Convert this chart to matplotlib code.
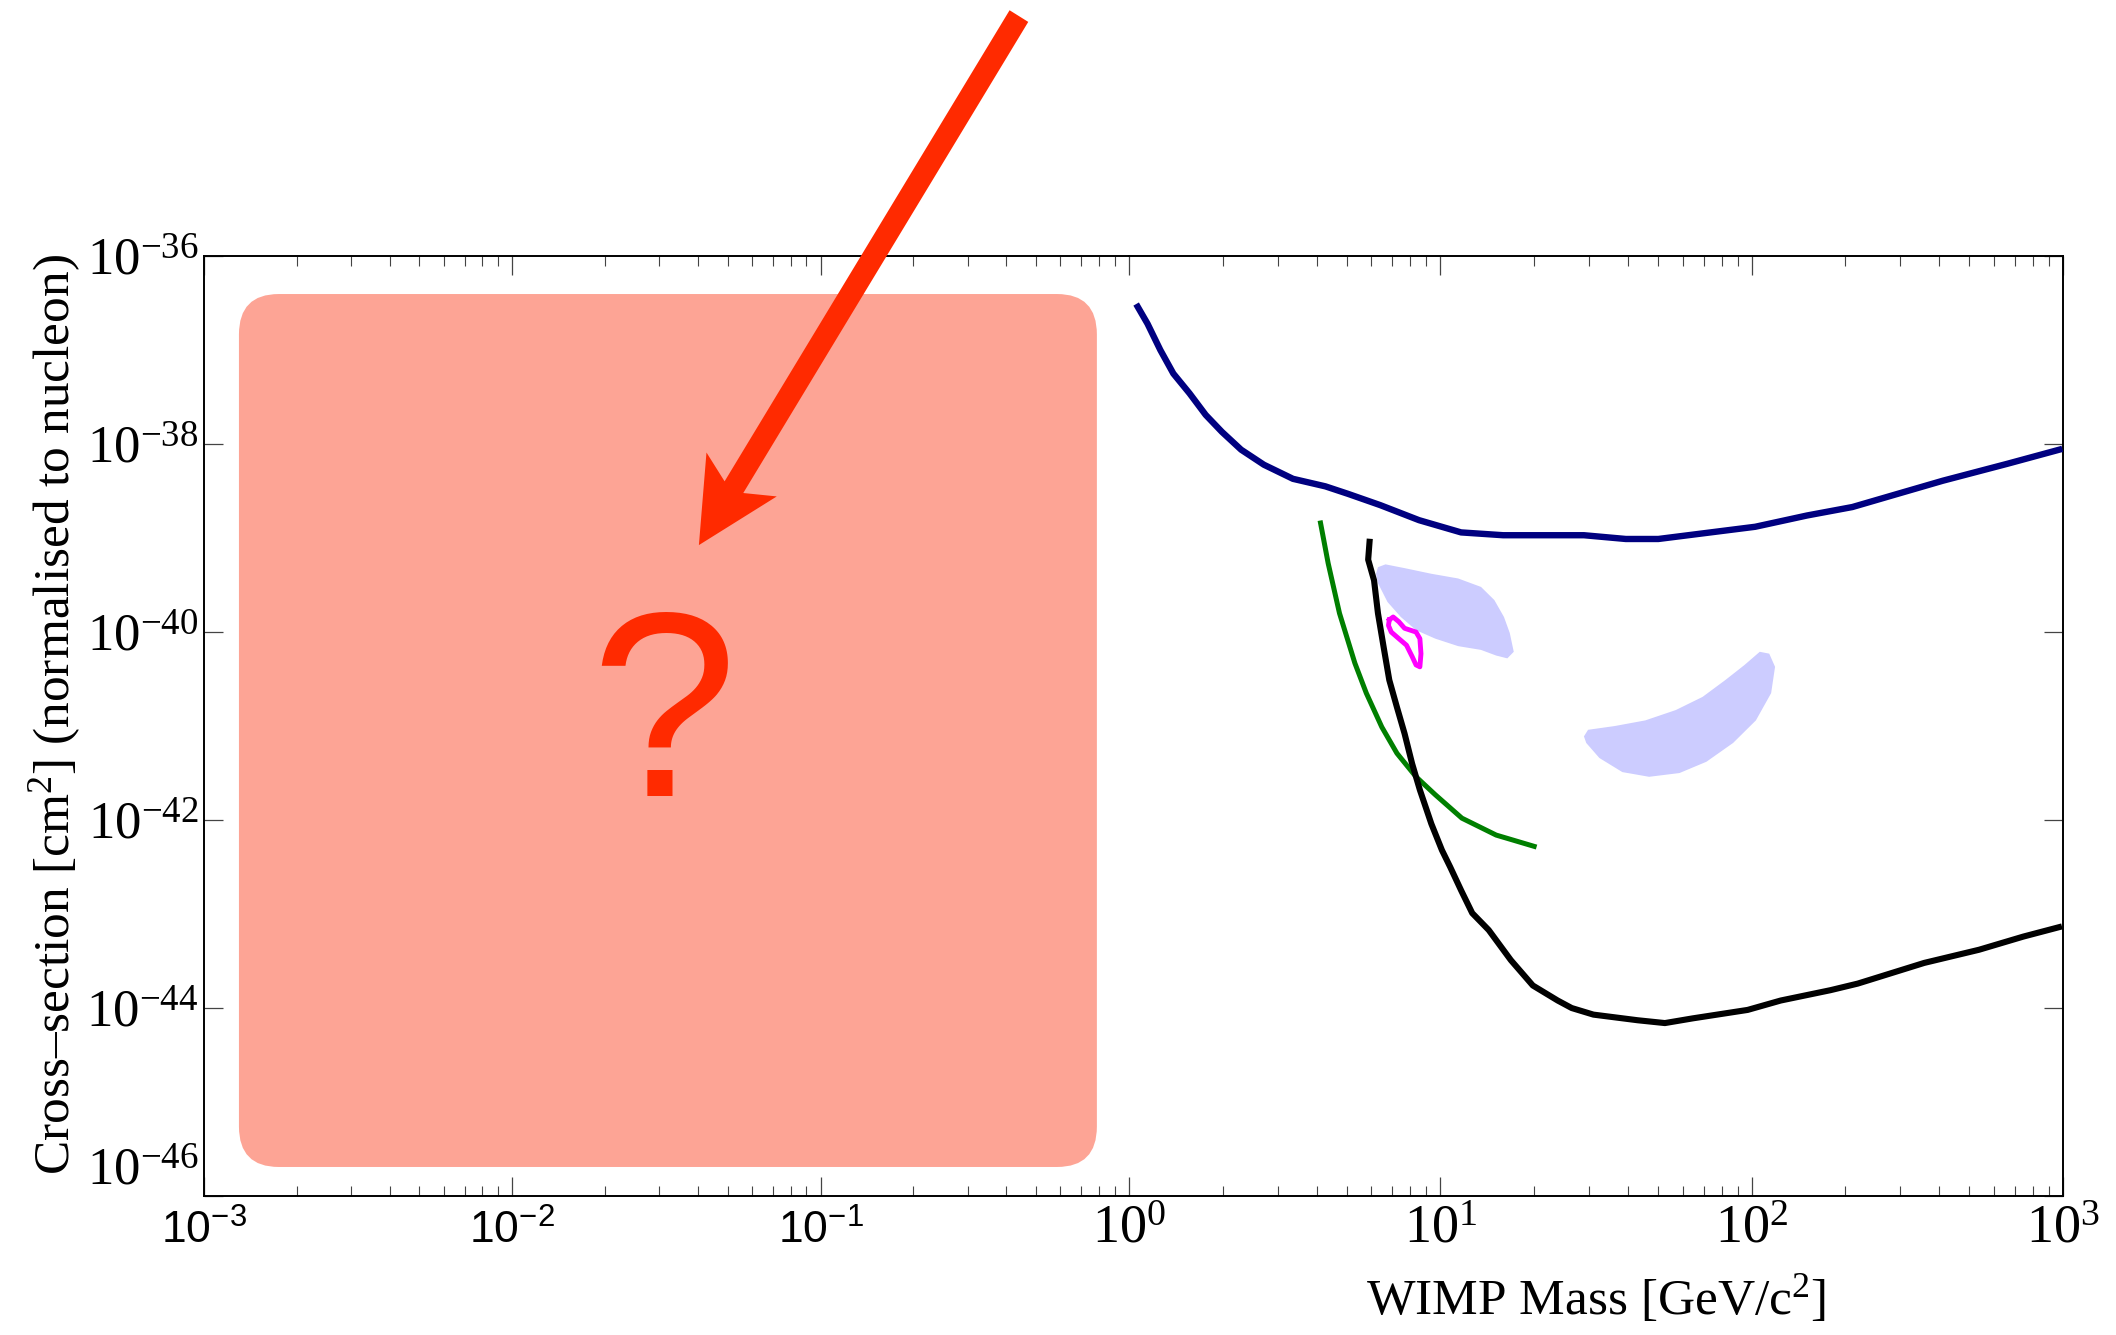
import numpy as np
import matplotlib.pyplot as plt
from matplotlib import font_manager
from matplotlib.patches import FancyBboxPatch, FancyArrow
from matplotlib.ticker import LogLocator, NullLocator, NullFormatter

# ---- data (mass in GeV/c^2, log10 of cross-section in cm^2) ----
navy_mass = [1.066, 1.146, 1.26, 1.387, 1.563, 1.762, 1.986, 2.29, 2.71, 3.36, 4.27, 5.05,
             6.41, 8.54, 11.65, 15.9, 28.9, 39.4, 50.1, 102.6, 150.5, 210.5, 294, 411, 662, 972]
navy_logsig = [-36.54, -36.72, -37.00, -37.25, -37.46, -37.69, -37.87, -38.06, -38.22, -38.37,
               -38.45, -38.53, -38.65, -38.81, -38.94, -38.97, -38.97, -39.01, -39.01, -38.88,
               -38.76, -38.67, -38.53, -38.39, -38.21, -38.06]

green_mass = [4.12, 4.36, 4.74, 5.31, 5.78, 6.48, 7.25, 8.35, 9.62, 11.72, 15.1, 20.0]
green_logsig = [-38.84, -39.27, -39.80, -40.33, -40.65, -41.01, -41.29, -41.54, -41.73,
                -41.98, -42.16, -42.28]

black_mass = [5.92, 5.86, 6.12, 6.30, 6.57, 6.85, 7.25, 7.67, 8.11, 8.59, 9.35, 10.11, 10.75,
              11.66, 12.65, 14.29, 16.83, 19.8, 23.8, 26.4, 31.0, 43.0, 52.6, 64.6, 97.0,
              123.9, 179, 219, 280, 358, 537, 745, 970]
black_logsig = [-39.04, -39.23, -39.45, -39.80, -40.16, -40.51, -40.80, -41.08, -41.40, -41.68,
                -42.04, -42.32, -42.50, -42.75, -42.99, -43.17, -43.49, -43.76, -43.92, -44.00,
                -44.07, -44.13, -44.16, -44.11, -44.02, -43.92, -43.81, -43.74, -43.63, -43.52,
                -43.38, -43.24, -43.14]

blob1_mass = [6.30, 6.66, 7.67, 9.35, 11.40, 13.5, 14.9, 16.0, 16.7, 17.2, 16.4, 15.1, 13.5,
              11.40, 9.62, 8.35, 7.46, 6.76, 6.30, 6.21]
blob1_logsig = [-39.31, -39.28, -39.32, -39.38, -39.43, -39.52, -39.66, -39.84, -40.01, -40.21,
                -40.28, -40.25, -40.19, -40.15, -40.07, -39.98, -39.84, -39.68, -39.48, -39.38]

blob2_mass = [28.9, 29.8, 36.3, 45.5, 57.0, 69.5, 82.3, 94.8, 106.1, 113.8, 118.8, 115.4,
              103.1, 87.1, 71.5, 58.6, 46.8, 38.4, 32.4, 29.4]
blob2_logsig = [-41.11, -41.04, -41.00, -40.94, -40.83, -40.69, -40.51, -40.35, -40.21, -40.23,
                -40.37, -40.65, -40.94, -41.18, -41.38, -41.50, -41.54, -41.49, -41.34, -41.18]

magenta_mass = [6.85, 7.05, 7.35, 7.67, 8.35, 8.59, 8.66, 8.59, 8.35, 8.11, 7.78, 7.35, 6.95,
                6.81, 6.85]
magenta_logsig = [-39.87, -39.84, -39.89, -39.96, -40.00, -40.07, -40.23, -40.37, -40.35,
                  -40.26, -40.14, -40.07, -40.00, -39.93, -39.87]

left_xticks = [1e-3, 1e-2, 1e-1]
left_xlabels = [r'$\mathsf{10^{-3}}$', r'$\mathsf{10^{-2}}$', r'$\mathsf{10^{-1}}$']
right_xticks = [1, 10, 100, 1000]
right_xlabels = [r'$\mathregular{10^{0}}$', r'$\mathregular{10^{1}}$',
                 r'$\mathregular{10^{2}}$', r'$\mathregular{10^{3}}$']
yticks = [1e-46, 1e-44, 1e-42, 1e-40, 1e-38, 1e-36]
ylabels = [r'$\mathregular{10^{-46}}$', r'$\mathregular{10^{-44}}$', r'$\mathregular{10^{-42}}$',
           r'$\mathregular{10^{-40}}$', r'$\mathregular{10^{-38}}$', r'$\mathregular{10^{-36}}$']

serif = ['Liberation Serif', 'DejaVu Serif']
red = '#FF2A00'

# left panel tick labels: narrow sans via mathtext sf font (plain sans if narrow is missing)
narrow_file = font_manager.findfont('Liberation Sans Narrow', fallback_to_default=True)
if 'Narrow' in narrow_file:
    sf_font, sf_size = 'Liberation Sans Narrow', 37
else:
    sf_font, sf_size = 'Liberation Sans', 32
plt.rcParams['mathtext.fontset'] = 'custom'
plt.rcParams['mathtext.sf'] = sf_font
plt.rcParams['mathtext.rm'] = 'Liberation Serif'
plt.rcParams['mathtext.it'] = 'Liberation Serif:italic'
plt.rcParams['mathtext.bf'] = 'Liberation Serif:bold'

fig = plt.figure(figsize=(21.16, 13.35), dpi=100)
axl = fig.add_axes([0.0964, 0.1041, 0.4371, 0.7041])
axr = fig.add_axes([0.5336, 0.1041, 0.4414, 0.7041])

for ax in (axl, axr):
    ax.set_xscale('log')
    ax.set_yscale('log')
    ax.set_ylim(1e-46, 1e-36)
    ax.set_yticks(yticks)
    ax.yaxis.set_minor_locator(NullLocator())
    ax.xaxis.set_minor_locator(LogLocator(base=10, subs=np.arange(2, 10)))
    ax.xaxis.set_minor_formatter(NullFormatter())
    ax.tick_params(which='major', direction='in', length=14, width=0.9, color='#444444')
    ax.tick_params(which='minor', direction='in', length=7, width=0.8, color='#444444')
    for s in ax.spines.values():
        s.set_linewidth(1.4)

# left (empty) panel
axl.set_xlim(1e-3, 1)
axl.set_xticks(left_xticks)
axl.set_xticklabels(left_xlabels, fontsize=sf_size)
axl.set_yticklabels(ylabels, family=serif, fontsize=38)
axl.get_yticklabels()[0].set_verticalalignment('bottom')
axl.tick_params(axis='x', which='both', top=True, bottom=True)
axl.tick_params(axis='x', which='major', pad=10)
axl.tick_params(axis='y', left=True, right=False, pad=4)
axl.spines['right'].set_visible(False)
axl.set_ylabel('Cross–section [cm$^\\mathregular{2}$] (normalised to nucleon)',
               family=serif, fontsize=37)
axl.yaxis.set_label_coords(-0.131, 0.512)

# right panel with limits
axr.set_xlim(1, 1000)
axr.set_xticks(right_xticks)
axr.set_xticklabels(right_xlabels, family=serif, fontsize=39)
axr.tick_params(axis='x', which='both', top=True, bottom=True)
axr.tick_params(axis='x', which='major', pad=6)
axr.tick_params(axis='y', left=False, right=True, labelleft=False)
axr.spines['left'].set_visible(False)
axr.set_xlabel('WIMP Mass [GeV/c$^\\mathregular{2}$]', family=serif, fontsize=37)
axr.xaxis.set_label_coords(0.5, -0.082)

axr.fill(blob1_mass, 10.0 ** np.array(blob1_logsig), color='#CCCCFF', lw=0, zorder=1)
axr.fill(blob2_mass, 10.0 ** np.array(blob2_logsig), color='#CCCCFF', lw=0, zorder=1)
axr.plot(navy_mass, 10.0 ** np.array(navy_logsig), color='#000080', lw=4.6, zorder=3)
axr.plot(green_mass, 10.0 ** np.array(green_logsig), color='#007F00', lw=3.6, zorder=3)
axr.plot(black_mass, 10.0 ** np.array(black_logsig), color='black', lw=4.4, zorder=4)
axr.plot(magenta_mass, 10.0 ** np.array(magenta_logsig), color='#FF00FF', lw=3.5, zorder=5)

# overlay: pink box, question mark and arrow
box = FancyBboxPatch((0.0378, 0.0309), 0.9276, 0.9287,
                     boxstyle='round,pad=0,rounding_size=0.043',
                     transform=axl.transAxes, facecolor='#FDA495', edgecolor='none',
                     zorder=5, clip_on=False)
axl.add_patch(box)
axl.text(0.4973, 0.4255, '?', transform=axl.transAxes, ha='center', va='baseline',
         color=red, fontsize=190, family=['Liberation Sans', 'DejaVu Sans'], zorder=6)
arrow = FancyArrow(0.8811, 1.2553, -0.3460, -0.5628, width=0.0237, head_width=0.0892,
                   head_length=0.0882, overhang=0.18, length_includes_head=True,
                   transform=axl.transAxes, color=red, lw=0, zorder=7, clip_on=False)
axl.add_patch(arrow)

fig.savefig('out.png', dpi=100)
